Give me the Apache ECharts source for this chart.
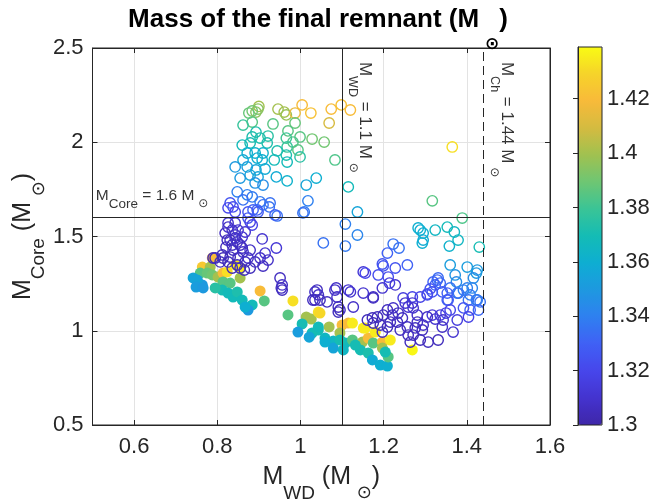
<!DOCTYPE html>
<html><head><meta charset="utf-8">
<script src="https://cdn.jsdelivr.net/npm/echarts@6/dist/echarts.min.js"></script>
<style>html,body{margin:0;padding:0;background:#fff}#c{width:657px;height:500px}</style>
</head><body><div id="c"></div>
<script>
// ---------- data: [M_WD, M_Core, M_final] ----------
const openUpper = [
[0.90,2.19,1.40],[0.898,2.176,1.395],[0.884,2.166,1.39],[0.876,2.155,1.388],[0.893,2.160,1.395],
[0.946,2.176,1.40],[0.961,2.160,1.40],[0.966,2.145,1.398],[0.987,2.155,1.415],[1.004,2.198,1.42],
[1.025,2.155,1.422],[1.074,2.176,1.42],[1.098,2.198,1.422],[1.120,2.171,1.42],[1.069,2.102,1.41],
[0.884,2.107,1.385],[0.862,2.091,1.378],[0.934,2.097,1.385],[0.987,2.102,1.388],[0.970,2.060,1.385],
[0.999,2.028,1.385],[1.028,2.017,1.39],[1.057,2.001,1.39],[0.893,2.054,1.372],[0.884,2.028,1.372],
[0.922,2.033,1.375],[0.903,2.022,1.372],[0.860,1.985,1.368],[0.879,1.996,1.37],[0.920,1.996,1.372],
[0.966,2.022,1.38],[0.982,2.001,1.383],[0.968,1.975,1.378],[0.994,1.959,1.385],[0.944,1.954,1.372],
[0.966,1.932,1.372],[0.910,1.943,1.362],[0.891,1.943,1.362],[0.872,1.943,1.36],[0.862,1.906,1.358],
[0.896,1.916,1.36],[0.908,1.906,1.36],[0.937,1.906,1.368],[0.968,1.895,1.368],[0.999,1.922,1.375],
[1.083,1.906,1.383],[0.843,1.869,1.35],[0.872,1.869,1.352],[0.893,1.853,1.355],[0.915,1.858,1.358],
[0.879,1.826,1.355],[0.898,1.816,1.355],[0.855,1.810,1.35],[0.942,1.816,1.358],[0.968,1.795,1.362],
[1.038,1.810,1.36],[1.014,1.773,1.355],[1.115,1.763,1.368],[0.910,1.773,1.345],[0.891,1.784,1.348],
[0.848,1.737,1.34],[0.872,1.721,1.34],[0.884,1.710,1.338],[0.862,1.694,1.335],[0.903,1.684,1.338],
[0.925,1.657,1.335],[0.831,1.678,1.325],[0.838,1.657,1.322],[0.826,1.652,1.32],[0.843,1.630,1.32],
[0.874,1.630,1.325],[0.896,1.641,1.33],[0.874,1.598,1.325],[0.944,1.609,1.335],[1.018,1.689,1.34],
[1.009,1.630,1.338],[1.108,1.566,1.34],[1.137,1.630,1.355],[0.884,1.561,1.318],
[1.365,1.975,1.432],[1.317,1.689,1.385],[1.389,1.598,1.383],[1.430,1.444,1.37],
[1.288,1.534,1.36],[1.295,1.518,1.36],[1.283,1.545,1.36],[1.293,1.465,1.36],[1.295,1.481,1.358],
[1.324,1.534,1.365],[1.353,1.550,1.368],[1.370,1.524,1.365],[1.379,1.481,1.365],[1.358,1.449,1.362],
[1.108,1.449,1.338],[1.137,1.508,1.342],
[1.055,1.466,1.335],[1.006,1.625,1.335],[0.939,1.614,1.33],[0.927,1.678,1.335],[0.910,1.668,1.335],
[0.886,1.641,1.33],[0.898,1.630,1.328],[0.879,1.577,1.318],[0.843,1.572,1.312],[0.826,1.572,1.31]
];
const openLeftCluster = [
[0.908,1.487,1.31],[0.942,1.439,1.312],[0.915,1.412,1.31],[0.903,1.386,1.308],[0.922,1.375,1.308],
[0.910,1.343,1.306],[0.879,1.333,1.305],[0.951,1.280,1.306],[0.954,1.227,1.306],
[0.836,1.534,1.308],[0.850,1.534,1.31],[0.819,1.518,1.306],[0.843,1.508,1.308],[0.860,1.497,1.31],
[0.831,1.481,1.306],[0.848,1.471,1.308],[0.855,1.455,1.306],[0.821,1.444,1.305],[0.838,1.428,1.306],
[0.862,1.418,1.308],[0.812,1.402,1.305],[0.831,1.391,1.305],[0.850,1.386,1.306],[0.826,1.365,1.305],
[0.848,1.349,1.305],[0.867,1.365,1.306],[0.836,1.333,1.304],[0.855,1.333,1.305],[0.807,1.365,1.305],
[0.795,1.386,1.304],[0.814,1.386,1.304],[0.824,1.481,1.306],[0.836,1.455,1.306],[0.860,1.439,1.306],
[0.843,1.492,1.308],[0.867,1.524,1.31],[0.826,1.550,1.308],[0.874,1.386,1.307],[0.891,1.365,1.307],
[0.865,1.322,1.305],[0.879,1.428,1.308],[0.790,1.386,1.305]
];
const openRightCluster = [
[1.223,1.460,1.335],[1.237,1.439,1.335],[1.209,1.412,1.33],[1.257,1.349,1.33],[1.197,1.354,1.325],
[1.228,1.333,1.325],[1.187,1.296,1.322],[1.211,1.285,1.322],[1.151,1.312,1.312],[1.199,1.344,1.325],
[1.228,1.243,1.31],[1.197,1.227,1.31],[1.175,1.179,1.308],[1.151,1.200,1.31],[1.115,1.216,1.31],
[1.086,1.227,1.308],[1.088,1.179,1.308],[1.091,1.126,1.306],[1.091,1.099,1.306],[1.127,1.126,1.308],
[1.120,1.206,1.31],[1.214,1.253,1.315],
[1.360,1.349,1.352],[1.401,1.338,1.352],[1.423,1.306,1.35],[1.372,1.296,1.348],[1.375,1.259,1.345],
[1.425,1.322,1.35],[1.416,1.280,1.345],[1.401,1.227,1.34],[1.408,1.190,1.338],[1.432,1.153,1.335],
[1.425,1.163,1.338],[1.392,1.216,1.34],[1.413,1.227,1.342],[1.404,1.163,1.335],[1.423,1.163,1.338],
[1.428,1.110,1.332],[1.408,1.110,1.33],[1.392,1.121,1.325],[1.360,1.227,1.335],[1.377,1.200,1.335],
[1.353,1.163,1.33],[1.380,1.200,1.336],[1.329,1.269,1.332],[1.319,1.259,1.33],[1.336,1.253,1.332],
[1.324,1.243,1.33],[1.331,1.280,1.333],[1.317,1.206,1.325],[1.341,1.206,1.328],[1.305,1.195,1.322],
[1.353,1.200,1.33],[1.288,1.179,1.318],[1.269,1.179,1.318],[1.247,1.174,1.315],[1.355,1.163,1.328],
[1.312,1.222,1.325],[1.305,1.190,1.322],[1.360,1.110,1.32],[1.350,1.094,1.318],[1.336,1.083,1.315],
[1.317,1.083,1.312],[1.324,1.062,1.31],[1.343,1.057,1.31],[1.341,1.020,1.308],[1.377,1.057,1.315],
[1.404,1.073,1.318],[1.367,0.993,1.31],[1.331,0.951,1.305],[1.307,0.940,1.305],[1.288,0.951,1.305],
[1.271,0.977,1.305],[1.259,0.977,1.305],[1.293,1.004,1.306],[1.276,1.015,1.306],[1.257,1.020,1.306],
[1.240,1.004,1.306],[1.281,1.046,1.307],[1.295,1.030,1.307],[1.305,1.073,1.308],[1.281,1.083,1.308],
[1.269,1.147,1.312],[1.259,1.126,1.31],[1.271,1.121,1.31],[1.252,1.147,1.31],[1.223,1.121,1.308],
[1.209,1.110,1.306],[1.221,1.083,1.306],[1.199,1.083,1.305],[1.185,1.073,1.305],[1.173,1.068,1.305],
[1.161,1.057,1.305],[1.175,1.041,1.305],[1.192,1.030,1.305],[1.209,1.020,1.305],[1.197,0.993,1.305],
[1.233,1.046,1.306],[1.245,1.068,1.307],[1.216,1.046,1.306],[1.235,1.094,1.307],[1.264,0.940,1.305],
[1.156,1.306,1.32],[1.035,1.206,1.308],[1.043,1.190,1.308],[1.030,1.163,1.306],[1.064,1.153,1.306],
[1.083,1.216,1.308],[1.095,1.110,1.305],[0.956,1.243,1.308],[0.956,1.216,1.306],[1.175,1.174,1.306],
[1.040,1.216,1.306],[1.035,1.163,1.305],[1.047,1.163,1.305]
];
const filledCircles = [
[0.788,1.386,1.42],[0.764,1.338,1.425],[0.783,1.338,1.40],[0.759,1.306,1.385],[0.776,1.306,1.388],
[0.788,1.296,1.39],[0.752,1.259,1.352],[0.764,1.243,1.35],[0.742,1.280,1.355],[0.752,1.269,1.355],
[0.802,1.285,1.40],[0.814,1.306,1.42],[0.824,1.312,1.432],[0.843,1.349,1.435],[0.855,1.333,1.435],
[0.855,1.280,1.40],[0.814,1.259,1.385],[0.831,1.253,1.385],[0.812,1.216,1.37],[0.826,1.200,1.368],
[0.838,1.179,1.368],[0.848,1.206,1.372],[0.860,1.163,1.368],[0.884,1.137,1.368],[0.874,1.110,1.35],
[0.903,1.211,1.42],[0.913,1.158,1.385],[0.982,1.158,1.432],[0.970,1.084,1.385],[1.014,1.073,1.40],
[1.026,1.062,1.40],[1.004,1.036,1.37],[1.043,1.099,1.432],[1.047,1.094,1.43],[0.994,0.993,1.352],
[1.028,0.988,1.368],[1.043,1.004,1.37],[1.069,1.020,1.40],[1.059,0.961,1.365],[1.079,0.945,1.365],
[1.079,0.908,1.355],[1.100,1.030,1.42],[1.115,1.041,1.42],[1.095,0.988,1.40],[1.108,0.935,1.368],
[1.103,0.898,1.365],[1.125,0.951,1.385],[1.149,0.940,1.40],[1.163,0.961,1.42],[1.144,0.898,1.37],
[1.163,0.882,1.372],[1.175,0.935,1.385],[1.197,0.940,1.42],[1.197,0.908,1.40],[1.173,0.845,1.358],
[1.192,0.818,1.36],[1.209,0.813,1.36],[1.211,0.861,1.385],[1.156,1.014,1.435],[1.216,0.951,1.435],
[1.269,0.898,1.438],[1.125,1.041,1.435],[1.151,1.014,1.435],[1.180,0.993,1.435],[0.749,1.232,1.352],
[0.766,1.227,1.35],[0.795,1.227,1.375],[0.867,1.126,1.36],[1.043,1.020,1.368],[1.059,0.940,1.36],
[1.021,0.966,1.355],[1.132,0.924,1.37],[1.095,0.951,1.37],[1.204,0.887,1.37]
];
// axis ranges / ticks
const xRange = [0.5, 1.6];
const yRange = [0.5, 2.5];
const yTickStep = 0.5;
const massRange = [1.3, 1.439];
const massTickStep = 0.02;
// reference lines
const refWD = 1.1, refCh = 1.44, refCore = 1.6;
// annotation text anchors (data units)
const noteCore = [0.508, 1.715];
const noteWD = [1.1545, 2.426];
const noteCh = [1.495, 2.426];

// ---------- styling ----------
const FONT = '"Liberation Sans", Arial, Helvetica, sans-serif';
const SYM = '"DejaVu Sans", sans-serif';
const INK = '#262626';
const parula = ['#3e26a8','#4433cf','#4746eb','#4060f5','#2f80f0','#1e98e0','#0eaed2','#14bcb5',
  '#3ac496','#6ec673','#a0c150','#d4bb40','#f8ba3a','#f6d32a','#f9fb14'];

const openCircles = openUpper.concat(openLeftCluster, openRightCluster);

function note(pos, text, rich, rotate) {
  return { value: pos, label: { show: true, formatter: text, rich: rich, rotate: rotate,
    position: [0, 0], align: 'left', verticalAlign: 'middle', distance: 0 } };
}
function richSet(main, sub, sym, pad, color) {
  return {
    m: { fontSize: main, fontFamily: FONT, color: color },
    s: { fontSize: sub, fontFamily: FONT, color: color, padding: [pad, 0, 0, 0] },
    o: { fontSize: sym, fontFamily: SYM, color: color, padding: [pad, 0, 0, 0] }
  };
}
const richSmall = richSet(15.5, 13.5, 12, 16, '#000');
const richVert = richSet(17, 12.5, 12, 24, '#000');
const richAxis = richSet(25, 19, 18, 32, INK);

const chart = echarts.init(document.getElementById('c'), null, { renderer: 'canvas' });
chart.setOption({
  animation: false,
  backgroundColor: '#fff',
  title: {
    text: '{b|Mass of the final remnant (M}{o| ⊙}{b|)}',
    left: 313, top: -19, textAlign: 'center',
    textStyle: { rich: {
      b: { fontSize: 26, fontWeight: 'bold', fontFamily: FONT, color: '#000' },
      o: { fontSize: 17, fontFamily: SYM, color: '#000', padding: [50, 0, 0, 0] }
    } }
  },
  grid: [
    { left: 92.5, right: 107, top: 48, bottom: 75, containLabel: false, outerBoundsMode: 'none',
      show: true, borderColor: INK, borderWidth: 1, backgroundColor: 'transparent', z: 6 },
    { left: 578, top: 47, width: 24, height: 378, containLabel: false, outerBoundsMode: 'none',
      show: true, borderColor: INK, borderWidth: 1, backgroundColor: 'transparent', z: 10 }
  ],
  xAxis: [
    { type: 'value', gridIndex: 0, min: xRange[0], max: xRange[1], splitNumber: 5,
      name: '{m|M}{s|WD}{m| (M}{o| ⊙}{m|)}', nameLocation: 'middle', nameGap: 27, nameMoveOverlap: false,
      nameTextStyle: { rich: richAxis },
      axisLine: { lineStyle: { color: INK, width: 1 } },
      axisTick: { inside: true, length: 5, lineStyle: { color: INK } },
      axisLabel: { fontSize: 22, fontFamily: FONT, color: INK, margin: 11, showMinLabel: false },
      splitLine: { show: true, lineStyle: { color: '#e3e3e3', width: 1 } } },
    { type: 'value', gridIndex: 0, position: 'top', min: xRange[0], max: xRange[1], splitNumber: 5,
      axisLine: { lineStyle: { color: INK } },
      axisTick: { inside: true, length: 5, lineStyle: { color: INK } },
      axisLabel: { show: false }, splitLine: { show: false } },
    { type: 'value', gridIndex: 1, show: false, min: 0, max: 1 }
  ],
  yAxis: [
    { type: 'value', gridIndex: 0, min: yRange[0], max: yRange[1], interval: yTickStep,
      name: '{m|M}{s|Core}{m| (M}{o| ⊙}{m|)}', nameLocation: 'middle', nameGap: 44, nameMoveOverlap: false,
      nameTextStyle: { rich: richAxis },
      axisLine: { show: true, lineStyle: { color: INK, width: 1 } },
      axisTick: { show: true, inside: true, length: 5, lineStyle: { color: INK } },
      axisLabel: { fontSize: 22, fontFamily: FONT, color: INK, margin: 9 },
      splitLine: { show: true, lineStyle: { color: '#e3e3e3', width: 1 } } },
    { type: 'value', gridIndex: 0, position: 'right', min: yRange[0], max: yRange[1], interval: yTickStep,
      axisLine: { show: true, lineStyle: { color: INK } },
      axisTick: { show: true, inside: true, length: 5, lineStyle: { color: INK } },
      axisLabel: { show: false }, splitLine: { show: false } },
    { type: 'value', gridIndex: 1, position: 'right', min: massRange[0], max: massRange[1], interval: massTickStep, z: 10,
      axisLine: { show: true, lineStyle: { color: INK } },
      axisTick: { show: true, inside: true, length: 5, lineStyle: { color: INK } },
      axisLabel: { fontSize: 22, fontFamily: FONT, color: INK, margin: 5, showMaxLabel: false },
      splitLine: { show: false } }
  ],
  visualMap: {
    type: 'continuous', min: massRange[0], max: massRange[1], dimension: 2, seriesIndex: [0, 1],
    inRange: { color: parula }, calculable: false, hoverLink: false, showLabel: false,
    orient: 'vertical', left: 578, top: 47, itemWidth: 24, itemHeight: 378, padding: 0, text: null
  },
  series: [
    { type: 'scatter', name: 'filled', xAxisIndex: 0, yAxisIndex: 0, data: filledCircles,
      symbol: 'circle', symbolSize: 11, z: 2, silent: true,
      itemStyle: { opacity: 1, borderWidth: 0 } },
    { type: 'custom', name: 'open', xAxisIndex: 0, yAxisIndex: 0, data: openCircles, z: 3, silent: true,
      encode: { x: 0, y: 1 },
      renderItem: function (params, api) {
        const p = api.coord([api.value(0), api.value(1)]);
        return { type: 'circle', shape: { cx: p[0], cy: p[1], r: 5.2 },
          style: { fill: 'none', stroke: api.visual('color'), lineWidth: 1.4 } };
      } },
    { type: 'scatter', name: 'notes', xAxisIndex: 0, yAxisIndex: 0, symbolSize: 0, z: 5, silent: true,
      data: [
        note(noteCore, '{m|M}{s|Core}{m| = 1.6 M}{o| ⊙}', richSmall, 0),
        note(noteWD, '{m|M}{s|WD}{m| = 1.1 M}{o| ⊙}', richVert, -90),
        note(noteCh, '{m|M}{s|Ch}{m| = 1.44 M}{o| ⊙}', richVert, -90)
      ],
      markLine: { silent: true, symbol: 'none', animation: false, label: { show: false },
        lineStyle: { color: INK, width: 1 },
        data: [
          { xAxis: refWD, lineStyle: { type: 'solid', color: INK, width: 1 } },
          { xAxis: refCh, lineStyle: { type: [9, 5], color: INK, width: 1 } },
          { yAxis: refCore, lineStyle: { type: 'solid', color: INK, width: 1 } }
        ] } }
  ]
});
</script></body></html>
